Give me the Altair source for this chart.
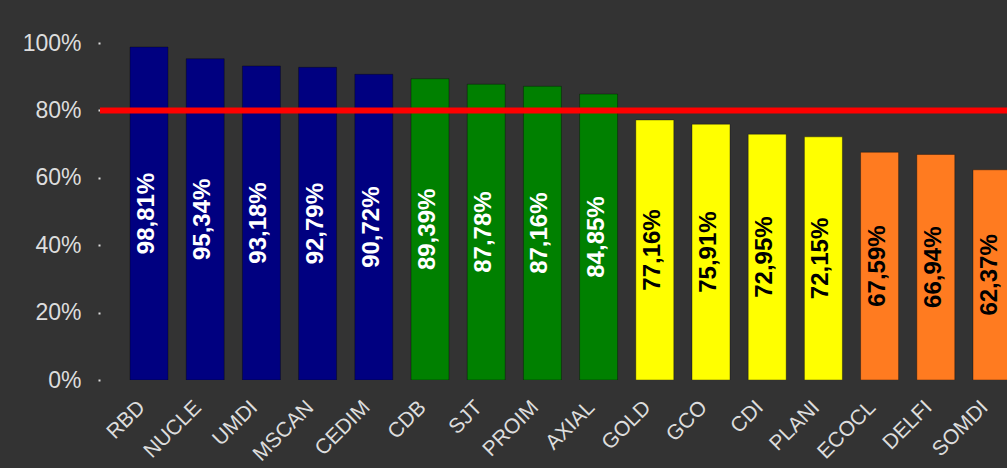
import altair as alt
import pandas as pd

categories = ["RBD", "NUCLE", "UMDI", "MSCAN", "CEDIM", "CDB", "SJT", "PROIM",
              "AXIAL", "GOLD", "GCO", "CDI", "PLANI", "ECOCL", "DELFI", "SOMDI"]
values = [98.81, 95.34, 93.18, 92.79, 90.72, 89.39, 87.78, 87.16,
          84.85, 77.16, 75.91, 72.95, 72.15, 67.59, 66.94, 62.37]
tiers = ["A"] * 5 + ["B"] * 4 + ["C"] * 4 + ["D"] * 3
target = 80

tier_domain = ["A", "B", "C", "D"]
tier_fill = ["#000080", "#008000", "#FFFF00", "#FF7B20"]
tier_text = ["#FFFFFF", "#FFFFFF", "#000000", "#000000"]

df = pd.DataFrame({"cat": categories, "value": values, "tier": tiers})

x = alt.X("cat:N", sort=categories, title=None,
          scale=alt.Scale(range=[0, 941], paddingInner=0.324, paddingOuter=0.534),
          axis=alt.Axis(labelAngle=-45, labelAlign="right", labelBaseline="middle",
                        labelFont="Liberation Sans", labelFontSize=21,
                        labelColor="#DDDDDD", labelPadding=24, labelOffset=-7,
                        ticks=False, domain=False, grid=False))
y = alt.Y("value:Q", title=None,
          scale=alt.Scale(domain=[0, 100], nice=False),
          axis=alt.Axis(values=[0, 20, 40, 60, 80, 100],
                        labelExpr="datum.value + '%'",
                        labelFont="Liberation Sans", labelFontSize=23,
                        labelColor="#DDDDDD", labelPadding=17,
                        tickSize=2, tickWidth=2, tickColor="#DDDDDD",
                        domain=False, grid=False))

bars = alt.Chart(df).mark_bar(clip=True, stroke="#000000", strokeOpacity=0.35,
                              strokeWidth=1).encode(
    x=x, y=y,
    color=alt.Color("tier:N", scale=alt.Scale(domain=tier_domain, range=tier_fill),
                    legend=None),
)

labels = alt.Chart(df).transform_calculate(
    half="datum.value / 2",
    txt="replace(format(datum.value, '.2f'), '.', ',') + '%'",
).mark_text(angle=270, align="center", baseline="middle", font="Liberation Sans",
            fontSize=24, fontWeight="bold", clip=True, dy=-2).encode(
    x=alt.X("cat:N", sort=categories),
    y=alt.Y("half:Q"),
    text="txt:N",
    color=alt.Color("tier:N", scale=alt.Scale(domain=tier_domain, range=tier_text),
                    legend=None),
)

rule = alt.Chart(pd.DataFrame({"t": [target]})).mark_rule(
    color="#FF0000", strokeWidth=6).encode(y="t:Q")

chart = alt.layer(bars, labels, rule).resolve_scale(color="independent").properties(
    width=907, height=337,
    background="#333333",
    autosize=alt.AutoSizeParams(type="none"),
    padding={"left": 100, "top": 43, "right": 0, "bottom": 88},
).configure_view(stroke=None)

chart.save("out.html", embed_options={"renderer": "svg", "actions": False})
